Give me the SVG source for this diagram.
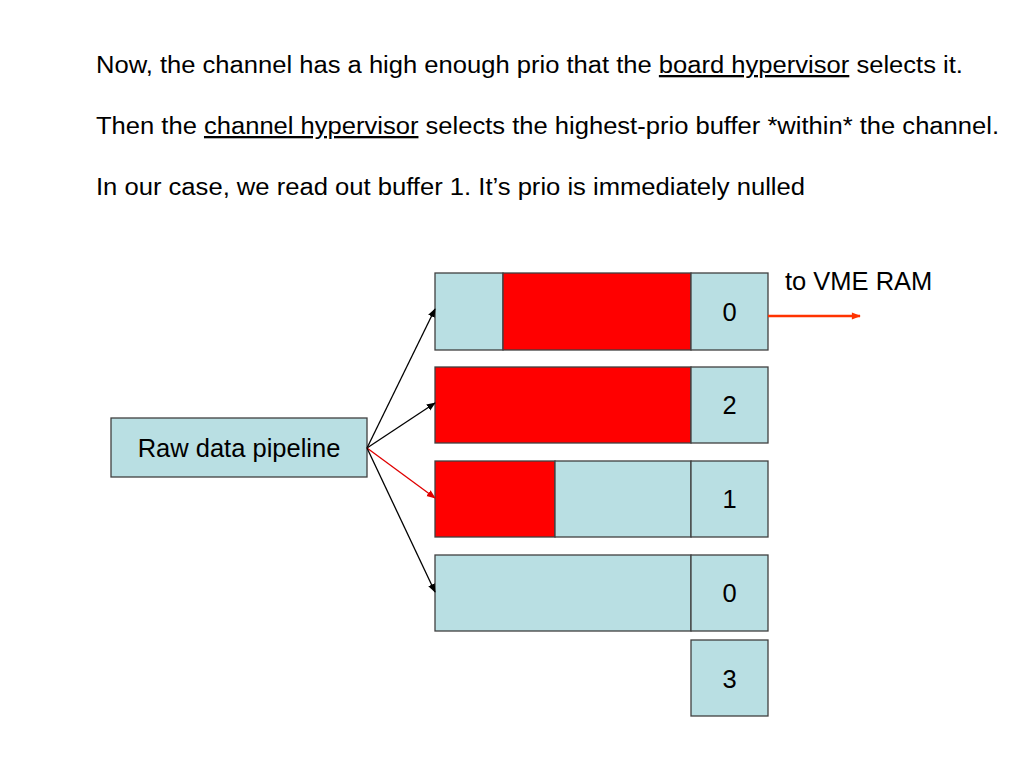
<svg xmlns="http://www.w3.org/2000/svg" width="1024" height="768" viewBox="0 0 1024 768">
<defs>
<style>
.t{font-family:"Liberation Sans",Arial,sans-serif;font-size:23px;fill:#000}
.l{font-family:"Liberation Sans",Arial,sans-serif;font-size:25.5px;fill:#000}
.n{font-family:"Liberation Sans",Arial,sans-serif;font-size:25.5px;fill:#000;text-anchor:middle}
.b{fill:#b9dfe3;stroke:#404040;stroke-width:1.3}
.r{fill:#ff0000;stroke:#404040;stroke-width:1.3}
.c{stroke:#000;stroke-width:1.3;fill:none}
</style>
<marker id="ab" viewBox="0 0 10 10" refX="9" refY="5" markerWidth="9" markerHeight="9" orient="auto" markerUnits="userSpaceOnUse"><path d="M0,1 L10,5 L0,9 z" fill="#000"/></marker>
<marker id="ar" viewBox="0 0 10 10" refX="9" refY="5" markerWidth="9" markerHeight="9" orient="auto" markerUnits="userSpaceOnUse"><path d="M0,1 L10,5 L0,9 z" fill="#e00000"/></marker>
<marker id="ao" viewBox="0 0 10 10" refX="9" refY="5" markerWidth="11" markerHeight="9" orient="auto" markerUnits="userSpaceOnUse"><path d="M0,1 L10,5 L0,9 z" fill="#ff3300"/></marker>
</defs>
<rect width="1024" height="768" fill="#fff"/>
<g id="text">
<text class="t" x="96" y="73" textLength="867" lengthAdjust="spacingAndGlyphs">Now, the channel has a high enough prio that the <tspan text-decoration="underline">board hypervisor</tspan> selects it.</text>
<text class="t" x="96" y="134" textLength="903" lengthAdjust="spacingAndGlyphs">Then the <tspan text-decoration="underline">channel hypervisor</tspan> selects the highest-prio buffer *within* the channel.</text>
<text class="t" x="96" y="195" textLength="709" lengthAdjust="spacingAndGlyphs">In our case, we read out buffer 1. It’s prio is immediately nulled</text>
</g>
<g id="pipeline">
<rect class="b" x="111" y="418" width="256" height="59"/>
<text class="n" x="239" y="457">Raw data pipeline</text>
</g>
<g id="buffer1">
<rect class="b" x="435" y="273" width="68" height="77"/>
<rect class="r" x="503" y="273" width="188" height="77"/>
<rect class="b" x="691" y="273" width="77" height="77"/>
<text class="n" x="729.5" y="321">0</text>
</g>
<g id="buffer2">
<rect class="r" x="435" y="367" width="256" height="76"/>
<rect class="b" x="691" y="367" width="77" height="76"/>
<text class="n" x="729.5" y="414">2</text>
</g>
<g id="buffer3">
<rect class="r" x="435" y="461" width="120" height="76"/>
<rect class="b" x="555" y="461" width="136" height="76"/>
<rect class="b" x="691" y="461" width="77" height="76"/>
<text class="n" x="729.5" y="508">1</text>
</g>
<g id="buffer4">
<rect class="b" x="435" y="555" width="256" height="76"/>
<rect class="b" x="691" y="555" width="77" height="76"/>
<text class="n" x="729.5" y="602">0</text>
</g>
<g id="box3">
<rect class="b" x="691" y="640" width="77" height="76"/>
<text class="n" x="729.5" y="688">3</text>
</g>
<g id="vme">
<text class="l" x="785" y="290">to VME RAM</text>
</g>
<g id="connectors">
<line class="c" x1="367" y1="448" x2="435" y2="309" marker-end="url(#ab)"/>
<line class="c" x1="367" y1="448" x2="435" y2="403" marker-end="url(#ab)"/>
<line x1="367" y1="448" x2="435" y2="498" stroke="#e00000" stroke-width="1.3" marker-end="url(#ar)"/>
<line class="c" x1="367" y1="448" x2="435" y2="592" marker-end="url(#ab)"/>
<line x1="768" y1="316" x2="860" y2="316" stroke="#ff3300" stroke-width="2.5" marker-end="url(#ao)"/>
</g>
</svg>
